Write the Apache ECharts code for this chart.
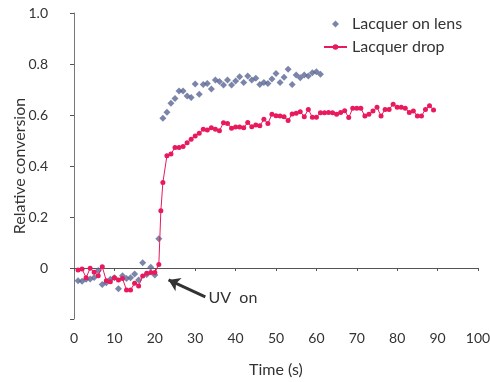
<!DOCTYPE html>
<html>
<head>
<meta charset="utf-8">
<script src="https://cdn.jsdelivr.net/npm/echarts@6/dist/echarts.min.js"></script>
<style>
html,body{margin:0;padding:0;background:#fff;}
#chart{width:490px;height:382px;}
</style>
</head>
<body>
<div id="chart"></div>
<script>
// Lacquer drop (red, line + markers)
var timeDrop = [1,2,3,4,5,6,7,8,9,10,11,12,13,14,15,16,17,18,19,20,21,21.5,
  22,23,24,25,26,27,28,29,30,31,32,33,34,35,36,37,38,39,40,41,42,43,44,45,46,47,48,49,50,
  51,52,53,54,55,56,57,58,59,60,61,62,63,64,65,66,67,68,69,70,71,72,73,74,75,76,77,78,79,80,
  81,82,83,84,85,86,87,88,89];
var convDrop = [-0.008,-0.004,-0.038,-0.001,-0.017,-0.030,0.005,-0.050,-0.054,-0.038,-0.047,-0.041,-0.086,-0.086,-0.060,-0.071,-0.031,-0.021,-0.018,-0.018,0.014,0.225,
  0.335,0.440,0.447,0.473,0.473,0.476,0.491,0.505,0.518,0.528,0.544,0.541,0.550,0.544,0.538,0.570,0.567,0.548,0.553,0.553,0.550,0.571,0.554,0.561,0.558,0.583,0.567,0.603,0.597,
  0.596,0.593,0.578,0.604,0.607,0.613,0.593,0.622,0.591,0.591,0.609,0.609,0.610,0.609,0.603,0.610,0.617,0.590,0.626,0.626,0.626,0.596,0.603,0.616,0.630,0.596,0.622,0.622,0.642,0.630,
  0.630,0.626,0.610,0.616,0.596,0.596,0.622,0.636,0.620];

// Lacquer on lens (blue diamonds)
var timeLens = [1,2,3,4,5,6,7,8,9,10,11,12,13,14,15,16,17,18,19,20,21,
  22,23,24,25,26,27,28,29,30,31,32,33,34,35,36,37,38,39,40,41,42,43,44,45,46,47,48,49,50,
  51,52,53,54,55,56,57,58,59,60,61];
var convLens = [-0.050,-0.052,-0.044,-0.043,-0.037,-0.010,-0.065,-0.058,-0.044,-0.038,-0.081,-0.030,-0.041,-0.038,-0.024,-0.047,0.021,-0.025,0.003,-0.027,0.115,
  0.587,0.611,0.646,0.665,0.694,0.694,0.675,0.669,0.722,0.681,0.720,0.724,0.702,0.737,0.731,0.718,0.737,0.718,0.733,0.750,0.727,0.753,0.737,0.744,0.720,0.727,0.724,0.741,0.763,
  0.727,0.748,0.779,0.720,0.757,0.746,0.757,0.753,0.766,0.770,0.760];

// Annotation (data coordinates)
var arrowFrom = [32.5, -0.113];
var arrowTo = [23.4, -0.047];
var uvLabelAt = [33.3, -0.118];

function zip(a, b) { return a.map(function (v, i) { return [v, b[i]]; }); }

var FONT = 'Lato';
var chart = echarts.init(document.getElementById('chart'));
chart.setOption({
  animation: false,
  textStyle: { fontFamily: FONT },
  grid: { left: 74, right: 12, top: 13, bottom: 63, containLabel: false, outerBoundsMode: 'none' },
  legend: {
    orient: 'vertical',
    left: 318,
    top: 11,
    itemGap: 7,
    itemWidth: 23,
    itemHeight: 7,
    symbolKeepAspect: true,
    textStyle: { fontFamily: FONT, fontSize: 16, color: '#333' },
    data: [
      { name: 'Lacquer on lens', icon: 'path://M0,-1L1,0L0,1L-1,0Z' },
      { name: 'Lacquer drop' }
    ]
  },
  xAxis: {
    type: 'value',
    min: 0, max: 100, interval: 10,
    name: 'Time (s)',
    nameLocation: 'middle',
    nameGap: 43,
    nameMoveOverlap: false,
    nameTextStyle: { fontFamily: FONT, fontSize: 16, color: '#333' },
    axisLine: { lineStyle: { color: '#555', width: 1 } },
    axisTick: { show: true, length: 3, lineStyle: { color: '#555' } },
    axisLabel: { fontFamily: FONT, fontSize: 14, color: '#333', margin: 12 },
    splitLine: { show: false }
  },
  yAxis: {
    type: 'value',
    min: -0.2, max: 1.0, interval: 0.2,
    name: 'Relative conversion',
    nameLocation: 'middle',
    nameGap: 46,
    nameMoveOverlap: false,
    nameTextStyle: { fontFamily: FONT, fontSize: 16, color: '#333' },
    axisLine: { show: true, lineStyle: { color: '#777', width: 1 } },
    axisTick: { show: true, length: 4, lineStyle: { color: '#555' } },
    axisLabel: {
      fontFamily: FONT, fontSize: 14, color: '#333', margin: 26,
      formatter: function (v) {
        if (Math.abs(v) < 1e-9) return '0';
        if (v < 0) return '';
        return v.toFixed(1);
      }
    },
    splitLine: { show: false }
  },
  series: [
    {
      name: 'Lacquer on lens',
      type: 'scatter',
      symbol: 'diamond',
      symbolSize: 7,
      itemStyle: { color: '#5a6693' },
      data: zip(timeLens, convLens),
      z: 3
    },
    {
      name: 'Lacquer drop',
      type: 'line',
      symbol: 'circle',
      symbolSize: 5,
      showAllSymbol: true,
      itemStyle: { color: '#e8195c' },
      lineStyle: { color: '#e8195c', width: 1 },
      data: zip(timeDrop, convDrop),
      z: 4,
      markLine: {
        silent: true,
        symbol: ['none', 'arrow'],
        symbolSize: [11, 11],
        lineStyle: { color: '#333', width: 3, type: 'solid' },
        label: { show: false },
        data: [[{ coord: arrowFrom }, { coord: arrowTo }]]
      },
      markPoint: {
        silent: true,
        symbol: 'circle',
        symbolSize: 0,
        label: {
          show: true, position: 'right', distance: 0,
          formatter: 'UV  on',
          fontFamily: FONT, fontSize: 16, color: '#333'
        },
        data: [{ coord: uvLabelAt }]
      }
    }
  ]
});
</script>
</body>
</html>
